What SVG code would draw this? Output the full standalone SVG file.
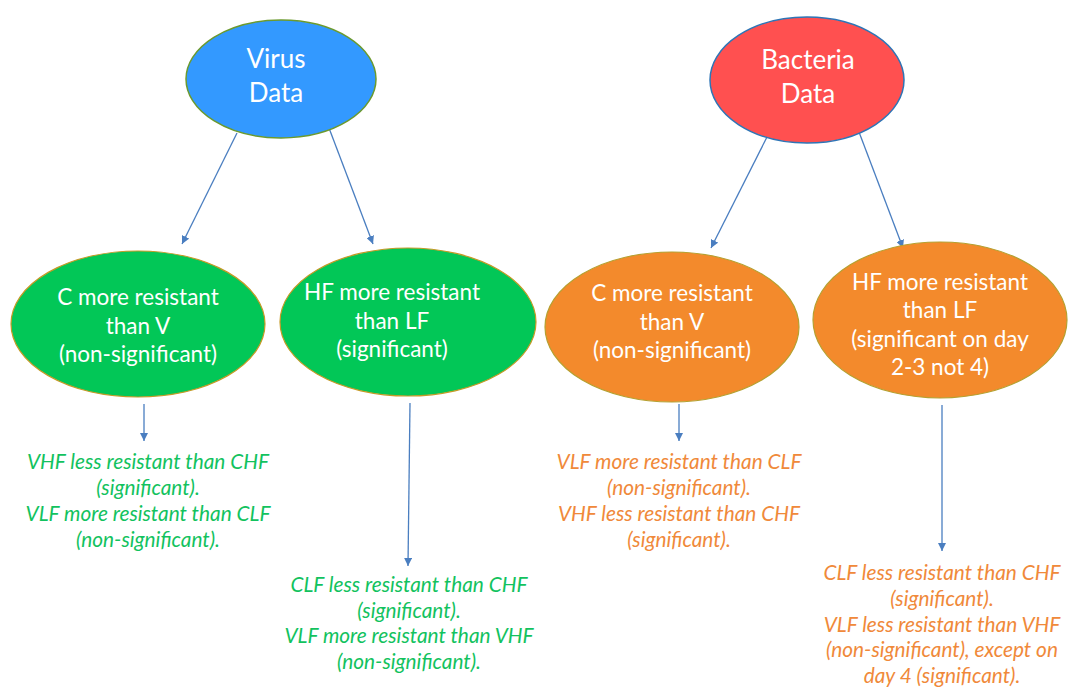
<svg xmlns="http://www.w3.org/2000/svg" width="1069" height="692" viewBox="0 0 1069 692">
  <style>
    .node-text { font-family: Lato, "Liberation Sans", sans-serif; fill: #ffffff; text-anchor: middle; }
    .big { font-size: 26px; }
    .mid { font-size: 22.5px; }
    .note { font-family: Lato, "Liberation Sans", sans-serif; font-style: italic; font-size: 20.8px; text-anchor: middle; }
    .note-green { fill: #12C25E; }
    .note-orange { fill: #F0893A; }
    .conn { stroke: #4A7EC0; stroke-width: 1.3; fill: none; marker-end: url(#arrow); }
  </style>
  <defs>
    <marker id="arrow" viewBox="0 0 10 10" refX="10" refY="5" markerWidth="8" markerHeight="8" markerUnits="userSpaceOnUse" orient="auto">
      <path d="M0,0 L10,5 L0,10 z" fill="#4A7EC0"/>
    </marker>
  </defs>
  <rect width="1069" height="692" fill="#ffffff"/>

  <g id="connectors">
    <line class="conn" x1="237" y1="133" x2="182" y2="244"/>
    <line class="conn" x1="329" y1="128" x2="373" y2="244"/>
    <line class="conn" x1="767" y1="137" x2="711" y2="248"/>
    <line class="conn" x1="859" y1="132" x2="903" y2="248"/>
    <line class="conn" x1="144" y1="404" x2="144" y2="441"/>
    <line class="conn" x1="410" y1="403" x2="408" y2="566"/>
    <line class="conn" x1="679" y1="404" x2="679" y2="441"/>
    <line class="conn" x1="942" y1="405" x2="942" y2="551"/>
  </g>

  <g id="virus-data">
    <ellipse cx="281" cy="79" rx="95" ry="59" fill="#3399FF" stroke="#6C9A2E" stroke-width="1.5"/>
    <text class="node-text big" x="276" y="68">Virus</text>
    <text class="node-text big" x="276" y="102">Data</text>
  </g>

  <g id="bacteria-data">
    <ellipse cx="807" cy="80" rx="97" ry="63" fill="#FF5050" stroke="#2E75B6" stroke-width="1.5"/>
    <text class="node-text big" x="808" y="69">Bacteria</text>
    <text class="node-text big" x="808" y="103">Data</text>
  </g>

  <g id="virus-c-vs-v">
    <ellipse cx="138" cy="324" rx="127" ry="73" fill="#02C757" stroke="#C59A26" stroke-width="1.2"/>
    <text class="node-text mid" x="138" y="305">C more resistant</text>
    <text class="node-text mid" x="138" y="334">than V</text>
    <text class="node-text mid" x="138" y="362">(non-significant)</text>
  </g>

  <g id="virus-hf-vs-lf">
    <ellipse cx="408" cy="322" rx="128" ry="74" fill="#02C757" stroke="#C59A26" stroke-width="1.2"/>
    <text class="node-text mid" x="392" y="300">HF more resistant</text>
    <text class="node-text mid" x="392" y="329">than LF</text>
    <text class="node-text mid" x="392" y="357">(significant)</text>
  </g>

  <g id="bacteria-c-vs-v">
    <ellipse cx="672" cy="327" rx="127" ry="75" fill="#F38A2C" stroke="#B5A030" stroke-width="1.2"/>
    <text class="node-text mid" x="672" y="301">C more resistant</text>
    <text class="node-text mid" x="672" y="330">than V</text>
    <text class="node-text mid" x="672" y="358">(non-significant)</text>
  </g>

  <g id="bacteria-hf-vs-lf">
    <ellipse cx="940" cy="320" rx="127" ry="78" fill="#F38A2C" stroke="#B5A030" stroke-width="1.2"/>
    <text class="node-text mid" x="940" y="290">HF more resistant</text>
    <text class="node-text mid" x="940" y="318">than LF</text>
    <text class="node-text mid" x="940" y="347">(significant on day</text>
    <text class="node-text mid" x="940" y="375">2-3 not 4)</text>
  </g>

  <g id="virus-c-vs-v-note">
    <text class="note note-green" x="148" y="469">VHF less resistant than CHF</text>
    <text class="note note-green" x="148" y="495">(significant).</text>
    <text class="note note-green" x="148" y="521">VLF more resistant than CLF</text>
    <text class="note note-green" x="148" y="547">(non-significant).</text>
  </g>

  <g id="virus-hf-vs-lf-note">
    <text class="note note-green" x="409" y="592">CLF less resistant than CHF</text>
    <text class="note note-green" x="409" y="618">(significant).</text>
    <text class="note note-green" x="409" y="643">VLF more resistant than VHF</text>
    <text class="note note-green" x="409" y="669">(non-significant).</text>
  </g>

  <g id="bacteria-c-vs-v-note">
    <text class="note note-orange" x="679" y="469">VLF more resistant than CLF</text>
    <text class="note note-orange" x="679" y="495">(non-significant).</text>
    <text class="note note-orange" x="679" y="521">VHF less resistant than CHF</text>
    <text class="note note-orange" x="679" y="547">(significant).</text>
  </g>

  <g id="bacteria-hf-vs-lf-note">
    <text class="note note-orange" x="942" y="580">CLF less resistant than CHF</text>
    <text class="note note-orange" x="942" y="606">(significant).</text>
    <text class="note note-orange" x="942" y="632">VLF less resistant than VHF</text>
    <text class="note note-orange" x="942" y="657">(non-significant), except on</text>
    <text class="note note-orange" x="942" y="683">day 4 (significant).</text>
  </g>
</svg>
